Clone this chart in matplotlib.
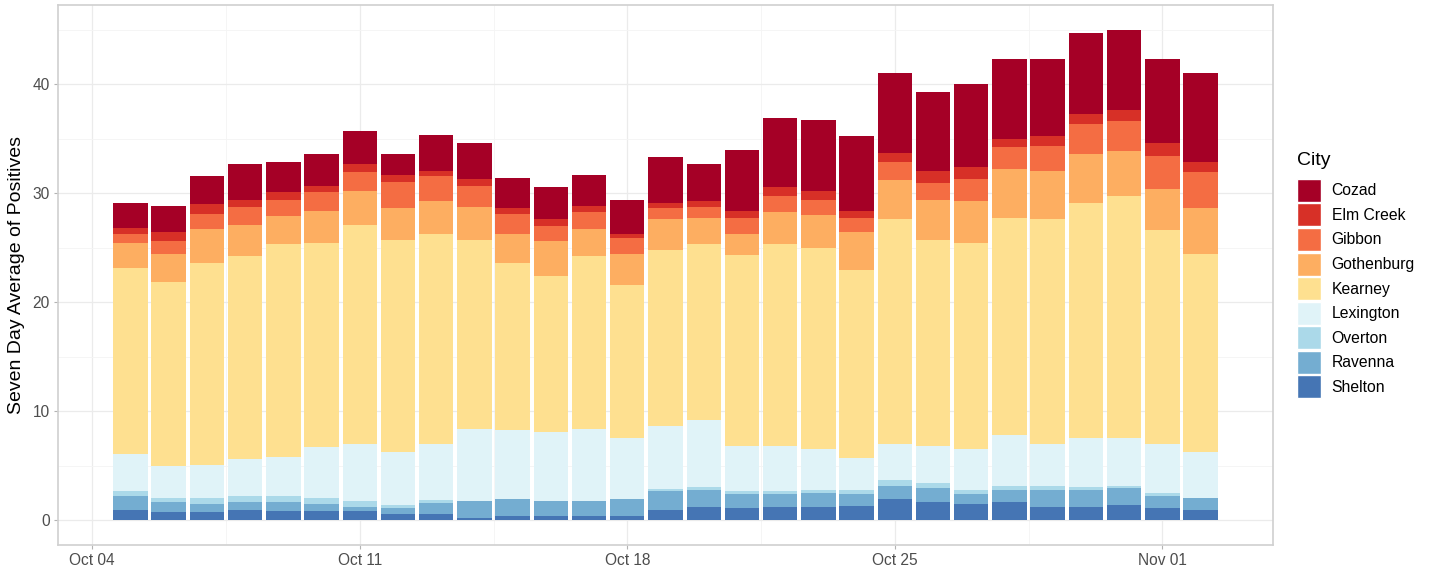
import numpy as np
import pandas as pd
import matplotlib
matplotlib.use("Agg")
import matplotlib.pyplot as plt
import matplotlib.dates as mdates
from matplotlib.patches import Patch

plt.rcParams['font.family'] = ['Liberation Sans', 'DejaVu Sans']

# dates of the seven day averages
dates = pd.date_range('2020-10-05', '2020-11-02', freq='D')

# city order in the legend (top of stack first)
cities = ['Cozad', 'Elm Creek', 'Gibbon', 'Gothenburg', 'Kearney',
          'Lexington', 'Overton', 'Ravenna', 'Shelton']

# values, one list per city
shelton   = [1.0, 0.8, 0.8, 1.0, 0.85, 0.85, 0.85, 0.55, 0.55, 0.25, 0.4, 0.4, 0.4, 0.4, 1.0,
             1.2, 1.1, 1.2, 1.2, 1.3, 1.95, 1.7, 1.5, 1.7, 1.2, 1.2, 1.45, 1.1, 1.0]
ravenna   = [1.2, 0.9, 0.7, 0.7, 0.85, 0.65, 0.35, 0.55, 1.05, 1.55, 1.55, 1.4, 1.4, 1.55, 1.7,
             1.6, 1.35, 1.25, 1.3, 1.15, 1.25, 1.25, 0.9, 1.1, 1.6, 1.6, 1.5, 1.15, 1.1]
overton   = [0.5, 0.4, 0.6, 0.5, 0.5, 0.6, 0.6, 0.3, 0.3, 0.0, 0.0, 0.0, 0.0, 0.0, 0.2,
             0.3, 0.25, 0.25, 0.3, 0.35, 0.5, 0.45, 0.4, 0.4, 0.4, 0.3, 0.25, 0.25, 0.0]
lexington = [3.4, 2.9, 3.0, 3.4, 3.6, 4.6, 5.2, 4.9, 5.1, 6.6, 6.35, 6.3, 6.6, 5.6, 5.8,
             6.1, 4.1, 4.1, 3.75, 2.95, 3.3, 3.4, 3.75, 4.6, 3.8, 4.45, 4.35, 4.5, 4.2]
kearney   = [17.0, 16.9, 18.5, 18.6, 19.5, 18.7, 20.1, 19.4, 19.3, 17.3, 15.3, 14.3, 15.8, 14.05, 16.1,
             16.1, 17.5, 18.5, 18.45, 17.25, 20.6, 18.9, 18.85, 19.9, 20.6, 21.55, 22.2, 19.6, 18.1]
gothenburg = [2.3, 2.5, 3.1, 2.9, 2.6, 3.0, 3.1, 2.9, 3.0, 3.0, 2.7, 3.2, 2.5, 2.8, 2.8,
              2.4, 2.0, 3.0, 3.0, 3.4, 3.6, 3.7, 3.9, 4.5, 4.4, 4.5, 4.15, 3.8, 4.2]
gibbon    = [0.9, 1.2, 1.4, 1.6, 1.5, 1.7, 1.7, 2.4, 2.3, 2.0, 1.8, 1.4, 1.6, 1.5, 1.0,
             1.0, 1.4, 1.4, 1.4, 1.3, 1.7, 1.5, 2.0, 2.0, 2.3, 2.7, 2.7, 3.0, 3.3]
elm_creek = [0.55, 0.8, 0.9, 0.7, 0.7, 0.6, 0.8, 0.7, 0.4, 0.6, 0.5, 0.6, 0.5, 0.4, 0.5,
             0.6, 0.7, 0.9, 0.8, 0.7, 0.8, 1.1, 1.1, 0.8, 0.9, 1.0, 1.0, 1.2, 1.0]
cozad     = [2.25, 2.4, 2.6, 3.3, 2.8, 2.9, 3.0, 1.9, 3.3, 3.3, 2.8, 3.0, 2.9, 3.1, 4.2,
             3.4, 5.6, 6.3, 6.5, 6.8, 7.3, 7.3, 7.6, 7.3, 7.1, 7.4, 7.4, 7.7, 8.1]

colors = {'Cozad': '#A50026', 'Elm Creek': '#D73027', 'Gibbon': '#F46D43',
          'Gothenburg': '#FDAE61', 'Kearney': '#FEE090', 'Lexington': '#E0F3F8',
          'Overton': '#ABD9E9', 'Ravenna': '#74ADD1', 'Shelton': '#4575B4'}

# stacking order from the bottom
stack = [('Shelton', shelton), ('Ravenna', ravenna), ('Overton', overton),
         ('Lexington', lexington), ('Kearney', kearney), ('Gothenburg', gothenburg),
         ('Gibbon', gibbon), ('Elm Creek', elm_creek), ('Cozad', cozad)]

fig = plt.figure(figsize=(14.36, 5.68), dpi=100)
ax = fig.add_axes([58 / 1436, 1 - 545 / 568, (1273 - 58) / 1436, 540 / 568])

x = mdates.date2num(dates)
bottom = np.zeros(len(dates))
for name, vals in stack:
    vals = np.array(vals)
    ax.bar(x, vals, width=0.9, bottom=bottom, color=colors[name], linewidth=0)
    bottom += vals

# axes limits like ggplot expansion
xmin, xmax = x[0] - 0.45, x[-1] + 0.45
pad = (xmax - xmin) * 0.05
ax.set_xlim(xmin - pad, xmax + pad)
ax.set_ylim(-2.25, 47.25)

ax.set_yticks([0, 10, 20, 30, 40])
ax.set_yticks([5, 15, 25, 35, 45], minor=True)
major_days = pd.to_datetime(['2020-10-04', '2020-10-11', '2020-10-18', '2020-10-25', '2020-11-01'])
ax.set_xticks(mdates.date2num(major_days))
ax.set_xticklabels([d.strftime('%b %d') for d in major_days])
ax.set_xticks(mdates.date2num(major_days[:-1]) + 3.5, minor=True)

ax.grid(True, which='major', color='#EBEBEB', linewidth=0.9)
ax.grid(True, which='minor', color='#F4F4F4', linewidth=0.6)
ax.set_axisbelow(True)

for s in ax.spines.values():
    s.set_color('#D0D0D0')
    s.set_linewidth(1.2)

ax.tick_params(axis='both', which='major', colors='#B3B3B3', length=3, width=0.8,
               labelcolor='#4D4D4D', labelsize=11.2, pad=3)
ax.tick_params(axis='both', which='minor', length=0)

ax.set_ylabel('Seven Day Average of Positives', fontsize=14, color='black', labelpad=5)

handles = [Patch(facecolor=colors[c], edgecolor='white', linewidth=1) for c in cities]
leg = fig.legend(handles, cities, title='City', loc='upper left',
                 bbox_to_anchor=(1297 / 1436, 1 - 152 / 568), frameon=False,
                 fontsize=11.3, title_fontsize=14, handlelength=1.55, handleheight=1.88,
                 labelspacing=0.1, handletextpad=0.65, borderaxespad=0, borderpad=0)
leg._legend_box.align = 'left'
leg._legend_box.sep = 7

fig.savefig('out.png', dpi=100)
